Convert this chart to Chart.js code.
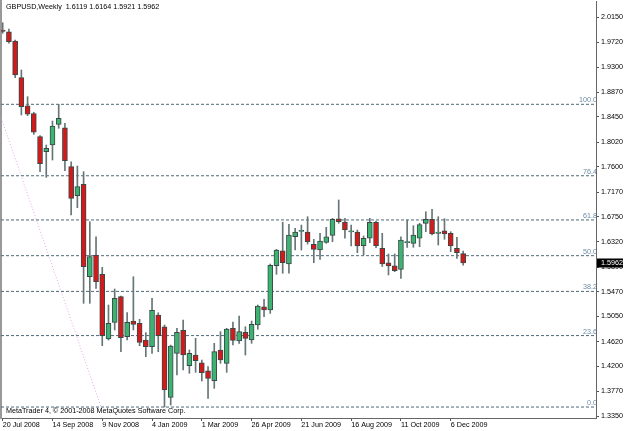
<!DOCTYPE html>
<html>
<head>
<meta charset="utf-8">
<script src="https://cdn.jsdelivr.net/npm/chart.js@4.4.1/dist/chart.umd.min.js"></script>
<style>
  html, body { margin: 0; padding: 0; background: #fff; }
  #wrap { width: 625px; height: 431px; }
</style>
</head>
<body>
<div id="wrap"><canvas id="chart" width="625" height="431"></canvas></div>
<script>
const symbol = 'GBPUSD';
const period = 'Weekly';

// one date label every 8 weekly bars, bar 0 = week of 20 Jul 2008
const xTickLabels = ['20 Jul 2008', '14 Sep 2008', '9 Nov 2008', '4 Jan 2009', '1 Mar 2009',
  '26 Apr 2009', '21 Jun 2009', '16 Aug 2009', '11 Oct 2009', '6 Dec 2009'];
const xTickStep = 8;
const yTicks = [2.0150, 1.9720, 1.9300, 1.8870, 1.8450, 1.8020, 1.7600, 1.7170, 1.6750,
  1.6320, 1.5890, 1.5470, 1.5050, 1.4620, 1.4200, 1.3770, 1.3350];

const opens = [1.9933, 1.9904, 1.9746, 1.9120, 1.8642, 1.8506, 1.8114, 1.7858, 1.7972, 1.8325,
  1.8267, 1.7602, 1.7107, 1.7302, 1.5726, 1.6096, 1.5767, 1.4663, 1.4948, 1.5385,
  1.4702, 1.4970, 1.4931, 1.4646, 1.4532, 1.5072, 1.4873, 1.3669, 1.4419, 1.4811,
  1.4208, 1.4390, 1.4259, 1.4122, 1.3952, 1.4476, 1.4249, 1.4846, 1.4629, 1.4777,
  1.4646, 1.4902, 1.5214, 1.5158, 1.5913, 1.6169, 1.5942, 1.6408, 1.6500, 1.6488,
  1.6278, 1.6181, 1.6312, 1.6432, 1.6715, 1.6659, 1.6490, 1.6488, 1.6254, 1.6381,
  1.6653, 1.6210, 1.5964, 1.5913, 1.5852, 1.6306, 1.6295, 1.6381, 1.6636, 1.6705,
  1.6466, 1.6510, 1.6466, 1.6210, 1.6119];
const highs = [2.0058, 1.9950, 1.9763, 1.9251, 1.8796, 1.8530, 1.8131, 1.7972, 1.8381, 1.8666,
  1.8342, 1.7687, 1.7614, 1.7517, 1.6664, 1.6408, 1.5886, 1.5243, 1.5516, 1.5397,
  1.5112, 1.5726, 1.4999, 1.4771, 1.5357, 1.5112, 1.4902, 1.4560, 1.4846, 1.4987,
  1.4476, 1.4675, 1.4305, 1.4191, 1.4590, 1.4788, 1.4846, 1.4953, 1.5055, 1.4873,
  1.4970, 1.5243, 1.5340, 1.5942, 1.6193, 1.6653, 1.6619, 1.6551, 1.6607, 1.6749,
  1.6364, 1.6466, 1.6568, 1.6722, 1.7034, 1.6722, 1.6607, 1.6522, 1.6420, 1.6722,
  1.6676, 1.6466, 1.6113, 1.6113, 1.6408, 1.6693, 1.6596, 1.6636, 1.6834, 1.6875,
  1.6749, 1.6715, 1.6493, 1.6398, 1.6164];
const lows = [1.9877, 1.9707, 1.9120, 1.8484, 1.8472, 1.8154, 1.7517, 1.7421, 1.7716, 1.8257,
  1.7534, 1.6778, 1.6903, 1.5272, 1.5272, 1.5528, 1.4549, 1.4646, 1.4817, 1.4447,
  1.4646, 1.4817, 1.4549, 1.4361, 1.4419, 1.4447, 1.3503, 1.3537, 1.4049, 1.4134,
  1.4078, 1.4095, 1.3947, 1.3652, 1.3822, 1.4249, 1.4095, 1.4561, 1.4590, 1.4390,
  1.4590, 1.4829, 1.5043, 1.5101, 1.5767, 1.5784, 1.5784, 1.6181, 1.6181, 1.6283,
  1.5964, 1.6022, 1.6295, 1.6323, 1.6637, 1.6381, 1.6249, 1.6135, 1.6096, 1.6306,
  1.6220, 1.5900, 1.5755, 1.5811, 1.5698, 1.6227, 1.6227, 1.6237, 1.6493, 1.6437,
  1.6266, 1.6364, 1.6152, 1.6039, 1.5921];
const closes = [1.9908, 1.9734, 1.9166, 1.8625, 1.8496, 1.8189, 1.7653, 1.7916, 1.8296, 1.8427,
  1.7704, 1.7063, 1.7261, 1.5896, 1.6067, 1.5640, 1.4719, 1.4931, 1.5357, 1.4685,
  1.4948, 1.4914, 1.4607, 1.4532, 1.5153, 1.4719, 1.3793, 1.4544, 1.4777, 1.4390,
  1.4419, 1.4293, 1.4088, 1.3993, 1.4447, 1.4305, 1.4834, 1.4638, 1.4788, 1.4675,
  1.4914, 1.5226, 1.5158, 1.5920, 1.6181, 1.5964, 1.6437, 1.6488, 1.6517, 1.6323,
  1.6193, 1.6335, 1.6408, 1.6705, 1.6664, 1.6522, 1.6495, 1.6249, 1.6381, 1.6653,
  1.6254, 1.5942, 1.5908, 1.5828, 1.6352, 1.6318, 1.6437, 1.6613, 1.6705, 1.6454,
  1.6488, 1.6454, 1.6249, 1.6135, 1.5962];

// fibonacci retracement object
const fibLevels = [0, 23.6, 38.2, 50, 61.8, 76.4, 100];
const fibLow = 1.3503;
const fibHigh = 1.8666;
const fibAnchorX = [-1, 15.8];

const xMin = -0.273, xMax = 95.35;
const yMin = 1.3316, yMax = 2.0428;

const font = { family: "'Liberation Sans', Arial, sans-serif", size: 7.2 };
const bullColor = '#3cb371';
const bearColor = '#d21a1a';
const outline = '#3a4848';
const fibColor = '#4e6878';

const fibPrice = lvl => fibLow + (fibHigh - fibLow) * lvl / 100;

const datasets = [
  {
    type: 'bar',
    data: closes.map((c, i) => ({ x: i, y: [opens[i], c] })),
    backgroundColor: ctx => closes[ctx.dataIndex] >= opens[ctx.dataIndex] ? bullColor : bearColor,
    borderColor: outline,
    borderWidth: 1,
    borderSkipped: false,
    barThickness: 5,
    minBarLength: 1,
    grouped: false
  },
  {
    type: 'bar',
    data: lows.map((l, i) => ({ x: i, y: [l, highs[i]] })),
    backgroundColor: '#667676',
    borderWidth: 0,
    barThickness: 1,
    grouped: false
  }
];

fibLevels.forEach(lvl => {
  datasets.push({
    type: 'line',
    data: [{ x: xMin, y: fibPrice(lvl) }, { x: xMax, y: fibPrice(lvl) }],
    borderColor: fibColor,
    borderWidth: 1,
    borderDash: [3, 2],
    pointRadius: 0,
    tension: 0
  });
});

datasets.push({
  type: 'line',
  data: [{ x: fibAnchorX[0], y: fibHigh }, { x: fibAnchorX[1], y: fibLow }],
  borderColor: '#e2a6e2',
  borderWidth: 1,
  borderDash: [1, 2],
  pointRadius: 0,
  tension: 0
});

const mtText = {
  id: 'mtText',
  afterDatasetsDraw(chart) {
    const { ctx, chartArea: a, scales: { y } } = chart;
    ctx.save();
    ctx.font = `${font.size}px ${font.family}`;
    // fib level labels, clipped at the price axis
    ctx.beginPath();
    ctx.rect(a.left, a.top, a.right - a.left, a.bottom - a.top);
    ctx.clip();
    ctx.fillStyle = '#6a8aa4';
    ctx.textAlign = 'right';
    ctx.textBaseline = 'alphabetic';
    fibLevels.forEach(lvl => {
      ctx.fillText(lvl.toFixed(1), a.right + 1, y.getPixelForValue(fibPrice(lvl)) - 2);
    });
    ctx.fillStyle = '#000';
    ctx.textAlign = 'left';
    ctx.textBaseline = 'middle';
    const n = closes.length - 1;
    ctx.fillText(`${symbol},${period}  ${opens[n].toFixed(4)} ${highs[n].toFixed(4)} ${lows[n].toFixed(4)} ${closes[n].toFixed(4)}`, a.left + 5, a.top + 6.5);
    ctx.fillText('MetaTrader 4, © 2001-2008 MetaQuotes Software Corp.', a.left + 5, a.bottom - 6.5);
    ctx.restore();
  },
  afterDraw(chart) {
    const { ctx, chartArea: a, scales: { y } } = chart;
    const last = closes[closes.length - 1];
    const yp = Math.round(y.getPixelForValue(last));
    ctx.save();
    ctx.fillStyle = '#000';
    ctx.fillRect(a.right + 1, yp - 4.5, 26, 9);
    ctx.fillStyle = '#fff';
    ctx.font = `${font.size}px ${font.family}`;
    ctx.textBaseline = 'middle';
    ctx.fillText(last.toFixed(4), a.right + 5, yp);
    ctx.restore();
  }
};

new Chart(document.getElementById('chart'), {
  type: 'bar',
  data: { datasets },
  plugins: [mtText],
  options: {
    responsive: false,
    animation: false,
    events: [],
    layout: { padding: { top: 1, left: 0, right: 0, bottom: 0 } },
    plugins: { legend: { display: false }, tooltip: { enabled: false } },
    scales: {
      x: {
        type: 'linear', min: xMin, max: xMax, offset: false,
        afterBuildTicks: s => { s.ticks = xTickLabels.map((_, k) => ({ value: k * xTickStep })); },
        afterFit: s => { s.height = 13; s.paddingLeft = 0; s.paddingRight = 0; },
        ticks: {
          autoSkip: false, maxRotation: 0, align: 'start', padding: 0, color: '#000', font,
          callback: v => xTickLabels[Math.round(v / xTickStep)]
        },
        grid: { drawOnChartArea: false, tickLength: 3, color: '#555', offset: false },
        border: { color: '#666', width: 1 }
      },
      y: {
        type: 'linear', position: 'right', min: yMin, max: yMax, beginAtZero: false,
        afterBuildTicks: s => { s.ticks = yTicks.map(v => ({ value: v })); },
        afterFit: s => { s.width = 29; s.paddingTop = 0; s.paddingBottom = 0; },
        ticks: { autoSkip: false, padding: 2, color: '#000', font, callback: v => v.toFixed(4) },
        grid: { drawOnChartArea: false, tickLength: 3, color: '#555' },
        border: { color: '#666', width: 1 }
      },
      yl: {
        type: 'linear', position: 'left', min: yMin, max: yMax,
        afterFit: s => { s.width = 1; s.paddingTop = 0; s.paddingBottom = 0; },
        ticks: { display: false },
        grid: { display: false },
        border: { color: '#999', width: 2 }
      }
    }
  }
});
</script>
</body>
</html>
